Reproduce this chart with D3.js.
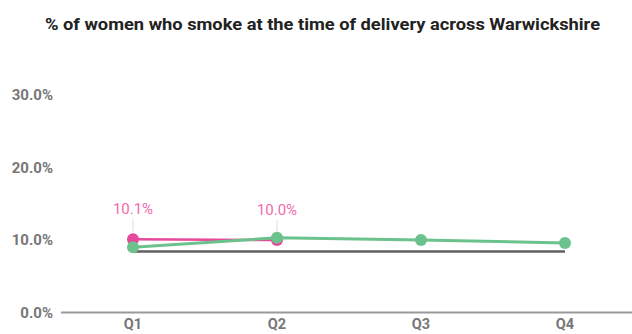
<!DOCTYPE html>
<html><head><meta charset="utf-8">
<script src="https://cdn.jsdelivr.net/npm/d3@7"></script>
<style>body{margin:0;background:#fff;}svg{display:block;font-family:Roboto,sans-serif;}</style>
</head><body><svg id="c" width="632" height="334"></svg>
<script>
const categories = ["Q1","Q2","Q3","Q4"];
const pinkSeries = [10.1, 10.0, null, null];
const greenSeries = [9.0, 10.3, 10.0, 9.6];
const greySeries = [8.4, 8.4, 8.4, 8.4];
const yTicks = [0, 10, 20, 30];
const title = "% of women who smoke at the time of delivery across Warwickshire";

const svg = d3.select("#c");
const W = 632, H = 334;
const x = d3.scaleBand().domain(categories).range([61, 637]);
const y = d3.scaleLinear().domain([0, 30]).range([312.5, 95]);
const cx = d => x(d) + x.bandwidth() / 2;

svg.append("text").attr("x", 45).attr("y", 30)
  .attr("font-size", 16).attr("font-weight", "bold").attr("fill", "#222")
  .attr("textLength", 555).attr("lengthAdjust", "spacingAndGlyphs").text(title);

// y labels
const yAxis = svg.append("g").attr("transform", `translate(53,0)`)
  .call(d3.axisLeft(y).tickValues(yTicks).tickFormat(d => d3.format(".1f")(d) + "%").tickSize(0).tickPadding(0));
yAxis.select(".domain").remove();
yAxis.selectAll("text").attr("font-size", 15).attr("font-weight", "bold").attr("fill", "#777").attr("font-family", "Roboto,sans-serif");

// x axis
const xAxis = svg.append("g").attr("transform", `translate(0,${y(0)})`)
  .call(d3.axisBottom(x).tickSize(0).tickPadding(6));
xAxis.select(".domain").attr("stroke", "#999").attr("stroke-width", 2).attr("d", "M61,0H632");
xAxis.selectAll("text").attr("font-size", 14.5).attr("font-weight", "bold").attr("fill", "#777").attr("font-family", "Roboto,sans-serif");

const line = d3.line().defined(d => d.v != null).x(d => cx(d.c)).y(d => y(d.v));
const toPts = arr => categories.map((c, i) => ({c, v: arr[i]}));

// grey
svg.append("path").datum(toPts(greySeries)).attr("d", line).attr("fill", "none")
  .attr("stroke", "#606060").attr("stroke-width", 2.5);

// pink
const pinkPts = toPts(pinkSeries).filter(d => d.v != null);
svg.append("path").datum(pinkPts).attr("d", line).attr("fill", "none")
  .attr("stroke", "#e8489b").attr("stroke-width", 2.5);
svg.selectAll(".lead").data(pinkPts).join("line")
  .attr("x1", d => cx(d.c)).attr("x2", d => cx(d.c))
  .attr("y1", d => y(d.v) - 8).attr("y2", d => y(d.v) - 20)
  .attr("stroke", "#e8e8e8").attr("stroke-width", 1.5);
svg.selectAll(".pdot").data(pinkPts).join("circle")
  .attr("cx", d => cx(d.c)).attr("cy", d => y(d.v)).attr("r", 6).attr("fill", "#e8489b");
svg.selectAll(".plab").data(pinkPts).join("text")
  .attr("x", d => cx(d.c)).attr("y", d => y(d.v) - 25).attr("text-anchor", "middle")
  .attr("font-size", 15).attr("fill", "#f06aae").text(d => d3.format(".1f")(d.v) + "%");

// green
const greenPts = toPts(greenSeries);
svg.append("path").datum(greenPts).attr("d", line).attr("fill", "none")
  .attr("stroke", "#6cc28d").attr("stroke-width", 3);
svg.selectAll(".gdot").data(greenPts).join("circle")
  .attr("cx", d => cx(d.c)).attr("cy", d => y(d.v)).attr("r", 6).attr("fill", "#6cc28d");
</script></body></html>
